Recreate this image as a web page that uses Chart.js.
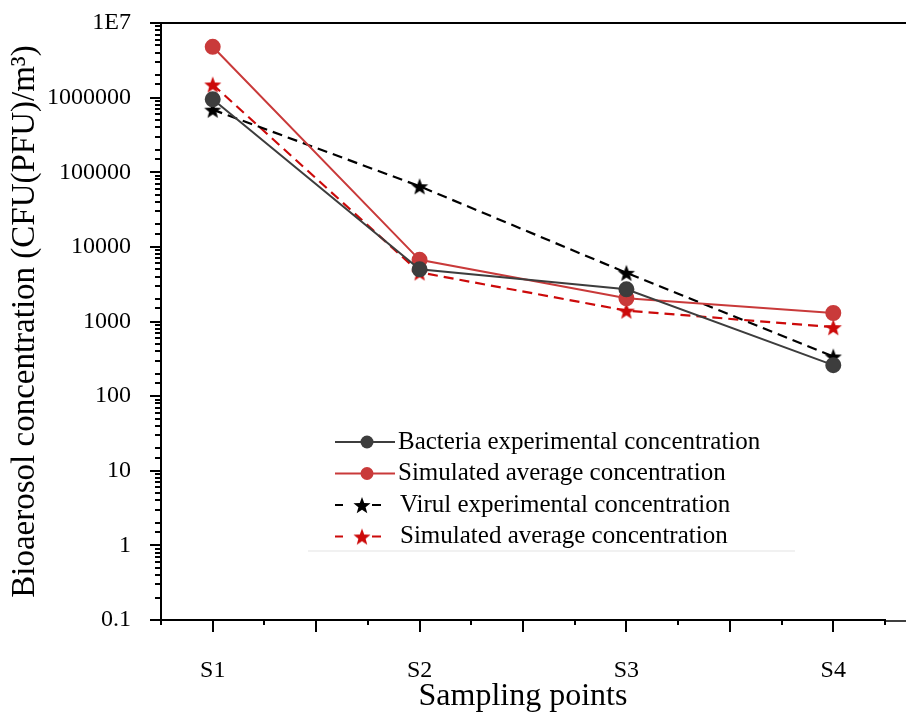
<!DOCTYPE html>
<html>
<head>
<meta charset="utf-8">
<script src="https://cdn.jsdelivr.net/npm/chart.js@4.4.1/dist/chart.umd.min.js"></script>
<style>
  html, body { margin: 0; padding: 0; background: #fff; }
  #wrap { width: 906px; height: 716px; }
</style>
</head>
<body>
<div id="wrap"><canvas id="chart" width="906" height="716"></canvas></div>
<script>
// sampling sites and concentrations, CFU(PFU)/m3
const SITES = ["S1", "S2", "S3", "S4"];
const BACTERIA_EXP = [950000, 5000, 2700, 260];
const BACTERIA_SIM = [4800000, 6700, 2050, 1300];
const VIRUS_EXP = [690000, 65000, 4500, 340];
const VIRUS_SIM = [1500000, 4550, 1400, 840];
// decade labels from 0.1 up to 1E7
const Y_LABELS = ["0.1", "1", "10", "100", "1000", "10000", "100000", "1000000", "1E7"];
const NAMES = [
  "Bacteria experimental concentration",
  "Simulated average concentration",
  "Virul experimental concentration",
  "Simulated average concentration"
];

const FONT = "'Liberation Serif', 'Times New Roman', serif";
const GRAY = "#3d3d3d", RED = "#c93a3a", BLACK = "#000000", RED2 = "#cc0a0a";

function star(color, r) {
  const c = document.createElement("canvas");
  const s = Math.ceil(r * 2 + 2);
  c.width = s; c.height = s;
  const g = c.getContext("2d");
  g.beginPath();
  for (let i = 0; i < 10; i++) {
    const rad = i % 2 ? r * 0.42 : r;
    const a = -Math.PI / 2 + i * Math.PI / 5;
    g.lineTo(s / 2 + rad * Math.cos(a), s / 2 + 1 + rad * Math.sin(a));
  }
  g.closePath();
  g.fillStyle = color;
  g.fill();
  return c;
}
const STAR_K = star(BLACK, 9), STAR_R = star(RED2, 9);

const pts = (arr) => arr.map((v, i) => ({ x: i + 1, y: v }));
const isDecade = (v) => { const e = Math.log10(v); return Math.abs(e - Math.round(e)) < 1e-6; };

const datasets = [
  { label: NAMES[0], data: pts(BACTERIA_EXP), borderColor: GRAY, backgroundColor: GRAY,
    pointStyle: "circle", pointRadius: 7, borderWidth: 2 },
  { label: NAMES[1], data: pts(BACTERIA_SIM), borderColor: RED, backgroundColor: RED,
    pointStyle: "circle", pointRadius: 7, borderWidth: 2 },
  { label: NAMES[2], data: pts(VIRUS_EXP), borderColor: BLACK, backgroundColor: BLACK,
    pointStyle: STAR_K, borderWidth: 2.2, borderDash: [10, 6] },
  { label: NAMES[3], data: pts(VIRUS_SIM), borderColor: RED2, backgroundColor: RED2,
    pointStyle: STAR_R, borderWidth: 2.2, borderDash: [10, 6] }
];

// tick marks (long at majors, short at minors), top frame line and in-plot legend
const decor = {
  id: "decor",
  afterDraw(chart) {
    const { ctx, chartArea: a, scales: { x, y } } = chart;
    ctx.save();
    ctx.strokeStyle = "#000";
    ctx.lineWidth = 2;
    ctx.beginPath();
    ctx.moveTo(a.left - 1, a.top); ctx.lineTo(chart.width, a.top);
    ctx.stroke();
    ctx.lineWidth = 1.5;
    ctx.beginPath();
    ctx.moveTo(a.right, a.bottom + 1); ctx.lineTo(chart.width, a.bottom + 1);
    ctx.stroke();

    ctx.lineWidth = 2;
    ctx.beginPath();
    y.ticks.forEach(t => {
      const p = Math.round(y.getPixelForValue(t.value));
      const len = isDecade(t.value) ? 11 : 6;
      ctx.moveTo(a.left, p); ctx.lineTo(a.left - len, p);
    });
    x.ticks.forEach(t => {
      const p = Math.round(x.getPixelForValue(t.value));
      const major = Math.abs(t.value * 2 - Math.round(t.value * 2)) < 1e-6;
      ctx.moveTo(p, a.bottom); ctx.lineTo(p, a.bottom + (major ? 12 : 5));
    });
    ctx.stroke();

    // legend
    const lx = 335, ly = 442, step = 31.5;
    ctx.font = "25px " + FONT;
    ctx.textBaseline = "middle";
    chart.data.datasets.forEach((d, i) => {
      const yy = ly + i * step;
      ctx.strokeStyle = d.borderColor;
      ctx.lineWidth = 2;
      if (d.borderDash) {
        ctx.beginPath();
        ctx.moveTo(lx, yy); ctx.lineTo(lx + 8, yy);
        ctx.moveTo(lx + 37, yy); ctx.lineTo(lx + 46, yy);
        ctx.stroke();
        ctx.drawImage(d.pointStyle, lx + 27 - d.pointStyle.width / 2, yy - d.pointStyle.height / 2);
        ctx.fillStyle = "#000";
        ctx.fillText(d.label, lx + 65, yy);
      } else {
        ctx.beginPath();
        ctx.moveTo(lx, yy); ctx.lineTo(lx + 60, yy);
        ctx.stroke();
        ctx.fillStyle = d.backgroundColor;
        ctx.beginPath(); ctx.arc(lx + 32, yy, 6.5, 0, Math.PI * 2); ctx.fill();
        ctx.fillStyle = "#000";
        ctx.fillText(d.label, lx + 63, yy);
      }
    });
    ctx.strokeStyle = "#ececec";
    ctx.lineWidth = 1.5;
    ctx.beginPath(); ctx.moveTo(308, 551); ctx.lineTo(795, 551); ctx.stroke();
    ctx.restore();
  }
};

Chart.defaults.font.family = FONT;
Chart.defaults.color = "#000";

new Chart(document.getElementById("chart"), {
  type: "line",
  data: { datasets },
  plugins: [decor],
  options: {
    responsive: false,
    animation: false,
    layout: { padding: { top: 23, right: 21, left: 0, bottom: 0 } },
    plugins: { legend: { display: false }, tooltip: { enabled: false } },
    scales: {
      x: {
        type: "linear", min: 0.75, max: 4.25,
        afterFit: (s) => { s.height = 96; s.paddingLeft = 0; s.paddingRight = 0; },
        grid: { display: false },
        border: { display: true, color: "#000", width: 2 },
        ticks: {
          stepSize: 0.25, autoSkip: false, maxRotation: 0, padding: 28,
          font: { size: 24 }, color: "#000",
          callback: (v) => Number.isInteger(v) ? SITES[v - 1] : ""
        },
        title: { display: true, text: "Sampling points", font: { size: 32 }, color: "#000",
          padding: { top: 0, bottom: 0 } }
      },
      y: {
        type: "logarithmic", min: 0.1, max: 1e7,
        afterFit: (s) => { s.width = 161; s.paddingTop = 0; s.paddingBottom = 0; },
        grid: { display: false },
        border: { display: true, color: "#000", width: 2 },
        ticks: {
          autoSkip: false, padding: 22, font: { size: 24 }, color: "#000",
          callback: (v) => isDecade(v) ? Y_LABELS[Math.round(Math.log10(v)) + 1] : ""
        },
        title: { display: true, text: "Bioaerosol concentration (CFU(PFU)/m³)", font: { size: 33 },
          color: "#000", padding: { top: 6, bottom: 0 } }
      }
    }
  }
});
</script>
</body>
</html>
